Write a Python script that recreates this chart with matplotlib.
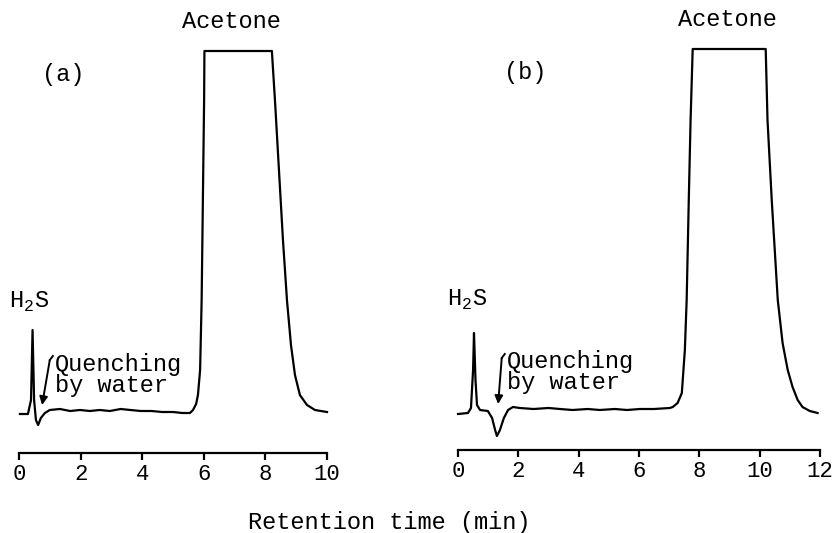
import matplotlib
matplotlib.use("Agg")
import matplotlib.pyplot as plt

plt.rcParams['font.family'] = ['Liberation Mono', 'DejaVu Sans Mono']
plt.rcParams['mathtext.fontset'] = 'custom'
plt.rcParams['mathtext.rm'] = 'Liberation Mono'

# ---- data: panel (a) ----
time_a = [0.03, 0.29, 0.39, 0.44, 0.49, 0.55, 0.62, 0.71, 0.84, 1.00, 1.33, 1.66, 1.98,
          2.30, 2.62, 2.95, 3.30, 3.62, 3.95, 4.30, 4.65, 5.00, 5.30, 5.55, 5.65, 5.75,
          5.81, 5.88, 5.93, 5.97, 6.01, 6.02, 8.21, 8.31, 8.44, 8.57, 8.70, 8.83, 8.96,
          9.12, 9.35, 9.61, 10.0]
signal_a = [-2, -2, 12, 82, 12, -8, -13, -6, -1, 2, 3, 1, 2,
            1, 2, 1, 3, 2, 1, 1, 0, 0, -1, -1, 2, 8,
            17, 42, 112, 212, 312, 361, 361, 312, 242, 172, 112, 67, 37,
            17, 7, 2, 0]

# ---- data: panel (b) ----
time_b = [0.00, 0.33, 0.43, 0.50, 0.53, 0.58, 0.63, 0.73, 0.99, 1.13, 1.23, 1.29, 1.39,
          1.52, 1.66, 1.82, 2.05, 2.50, 3.00, 3.38, 3.80, 4.30, 4.70, 5.20, 5.60, 6.03,
          6.50, 7.02, 7.12, 7.28, 7.42, 7.52, 7.58, 7.65, 7.71, 7.78, 10.20, 10.26, 10.40,
          10.60, 10.76, 10.93, 11.09, 11.26, 11.42, 11.66, 11.92]
signal_b = [-4, -3, 2, 40, 77, 30, 5, 0, -1, -8, -20, -26, -20,
            -8, 0, 3, 2, 1, 2, 1, 0, 1, 0, 1, 0, 1,
            1, 2, 3, 7, 17, 60, 110, 210, 290, 361, 361, 290, 210,
            110, 67, 40, 23, 10, 3, -1, -3]

xticks_a = [0, 2, 4, 6, 8, 10]
xticks_b = [0, 2, 4, 6, 8, 10, 12]

W, H = 836, 533
fig = plt.figure(figsize=(W / 100, H / 100), dpi=100)

def make_ax(left_px, right_px, bottom_px, top_px):
    return fig.add_axes([left_px / W, 1 - bottom_px / H,
                         (right_px - left_px) / W, (bottom_px - top_px) / H])

ax_a = make_ax(19, 327, 453, 40)
ax_b = make_ax(458, 820, 450, 40)

FS = 17
for ax, t, s, ticks, xmax, ylim in [
        (ax_a, time_a, signal_a, xticks_a, 10, (-41, 372)),
        (ax_b, time_b, signal_b, xticks_b, 12, (-40, 370))]:
    ax.plot(t, s, color='black', lw=1.6, solid_joinstyle='round', clip_on=False)
    ax.set_xlim(0, xmax)
    ax.set_ylim(*ylim)
    for sp in ['top', 'right', 'left']:
        ax.spines[sp].set_visible(False)
    ax.spines['bottom'].set_linewidth(1.6)
    ax.set_yticks([])
    ax.set_xticks(ticks)
    ax.set_xticklabels([str(v) for v in ticks], fontsize=16)
    ax.tick_params(axis='x', direction='out', length=5, width=1.6, pad=3)
    ax.patch.set_visible(False)

# annotations panel (a)
ax_a.text(6.9, 391, 'Acetone', ha='center', va='center', fontsize=FS)
ax_a.text(1.43, 338, '(a)', ha='center', va='center', fontsize=FS)
ax_a.text(-0.32, 110, r'H$_\mathregular{2}$S', ha='left', va='center', fontsize=FS)
ax_a.text(1.17, 37, 'Quenching\nby water', ha='left', va='center', fontsize=FS,
          linespacing=0.9)
ax_a.annotate('', xy=(0.75, 7), xytext=(1.0, 52),
              arrowprops=dict(arrowstyle='-|>', color='black', lw=1.4,
                              mutation_scale=12, shrinkA=0, shrinkB=0))
ax_a.plot([1.0, 1.1], [52, 56], color='black', lw=1.4, clip_on=False)

# annotations panel (b)
ax_b.text(8.94, 390, 'Acetone', ha='center', va='center', fontsize=FS)
ax_b.text(2.22, 337, '(b)', ha='center', va='center', fontsize=FS)
ax_b.text(-0.38, 110, r'H$_\mathregular{2}$S', ha='left', va='center', fontsize=FS)
ax_b.text(1.62, 38, 'Quenching\nby water', ha='left', va='center', fontsize=FS,
          linespacing=0.9)
ax_b.annotate('', xy=(1.33, 6), xytext=(1.45, 52),
              arrowprops=dict(arrowstyle='-|>', color='black', lw=1.4,
                              mutation_scale=12, shrinkA=0, shrinkB=0))
ax_b.plot([1.45, 1.55], [52, 56], color='black', lw=1.4, clip_on=False)

fig.text(389 / W, 1 - 522 / H, 'Retention time (min)', ha='center', va='center',
         fontsize=FS)

fig.savefig('out.png', dpi=100)
